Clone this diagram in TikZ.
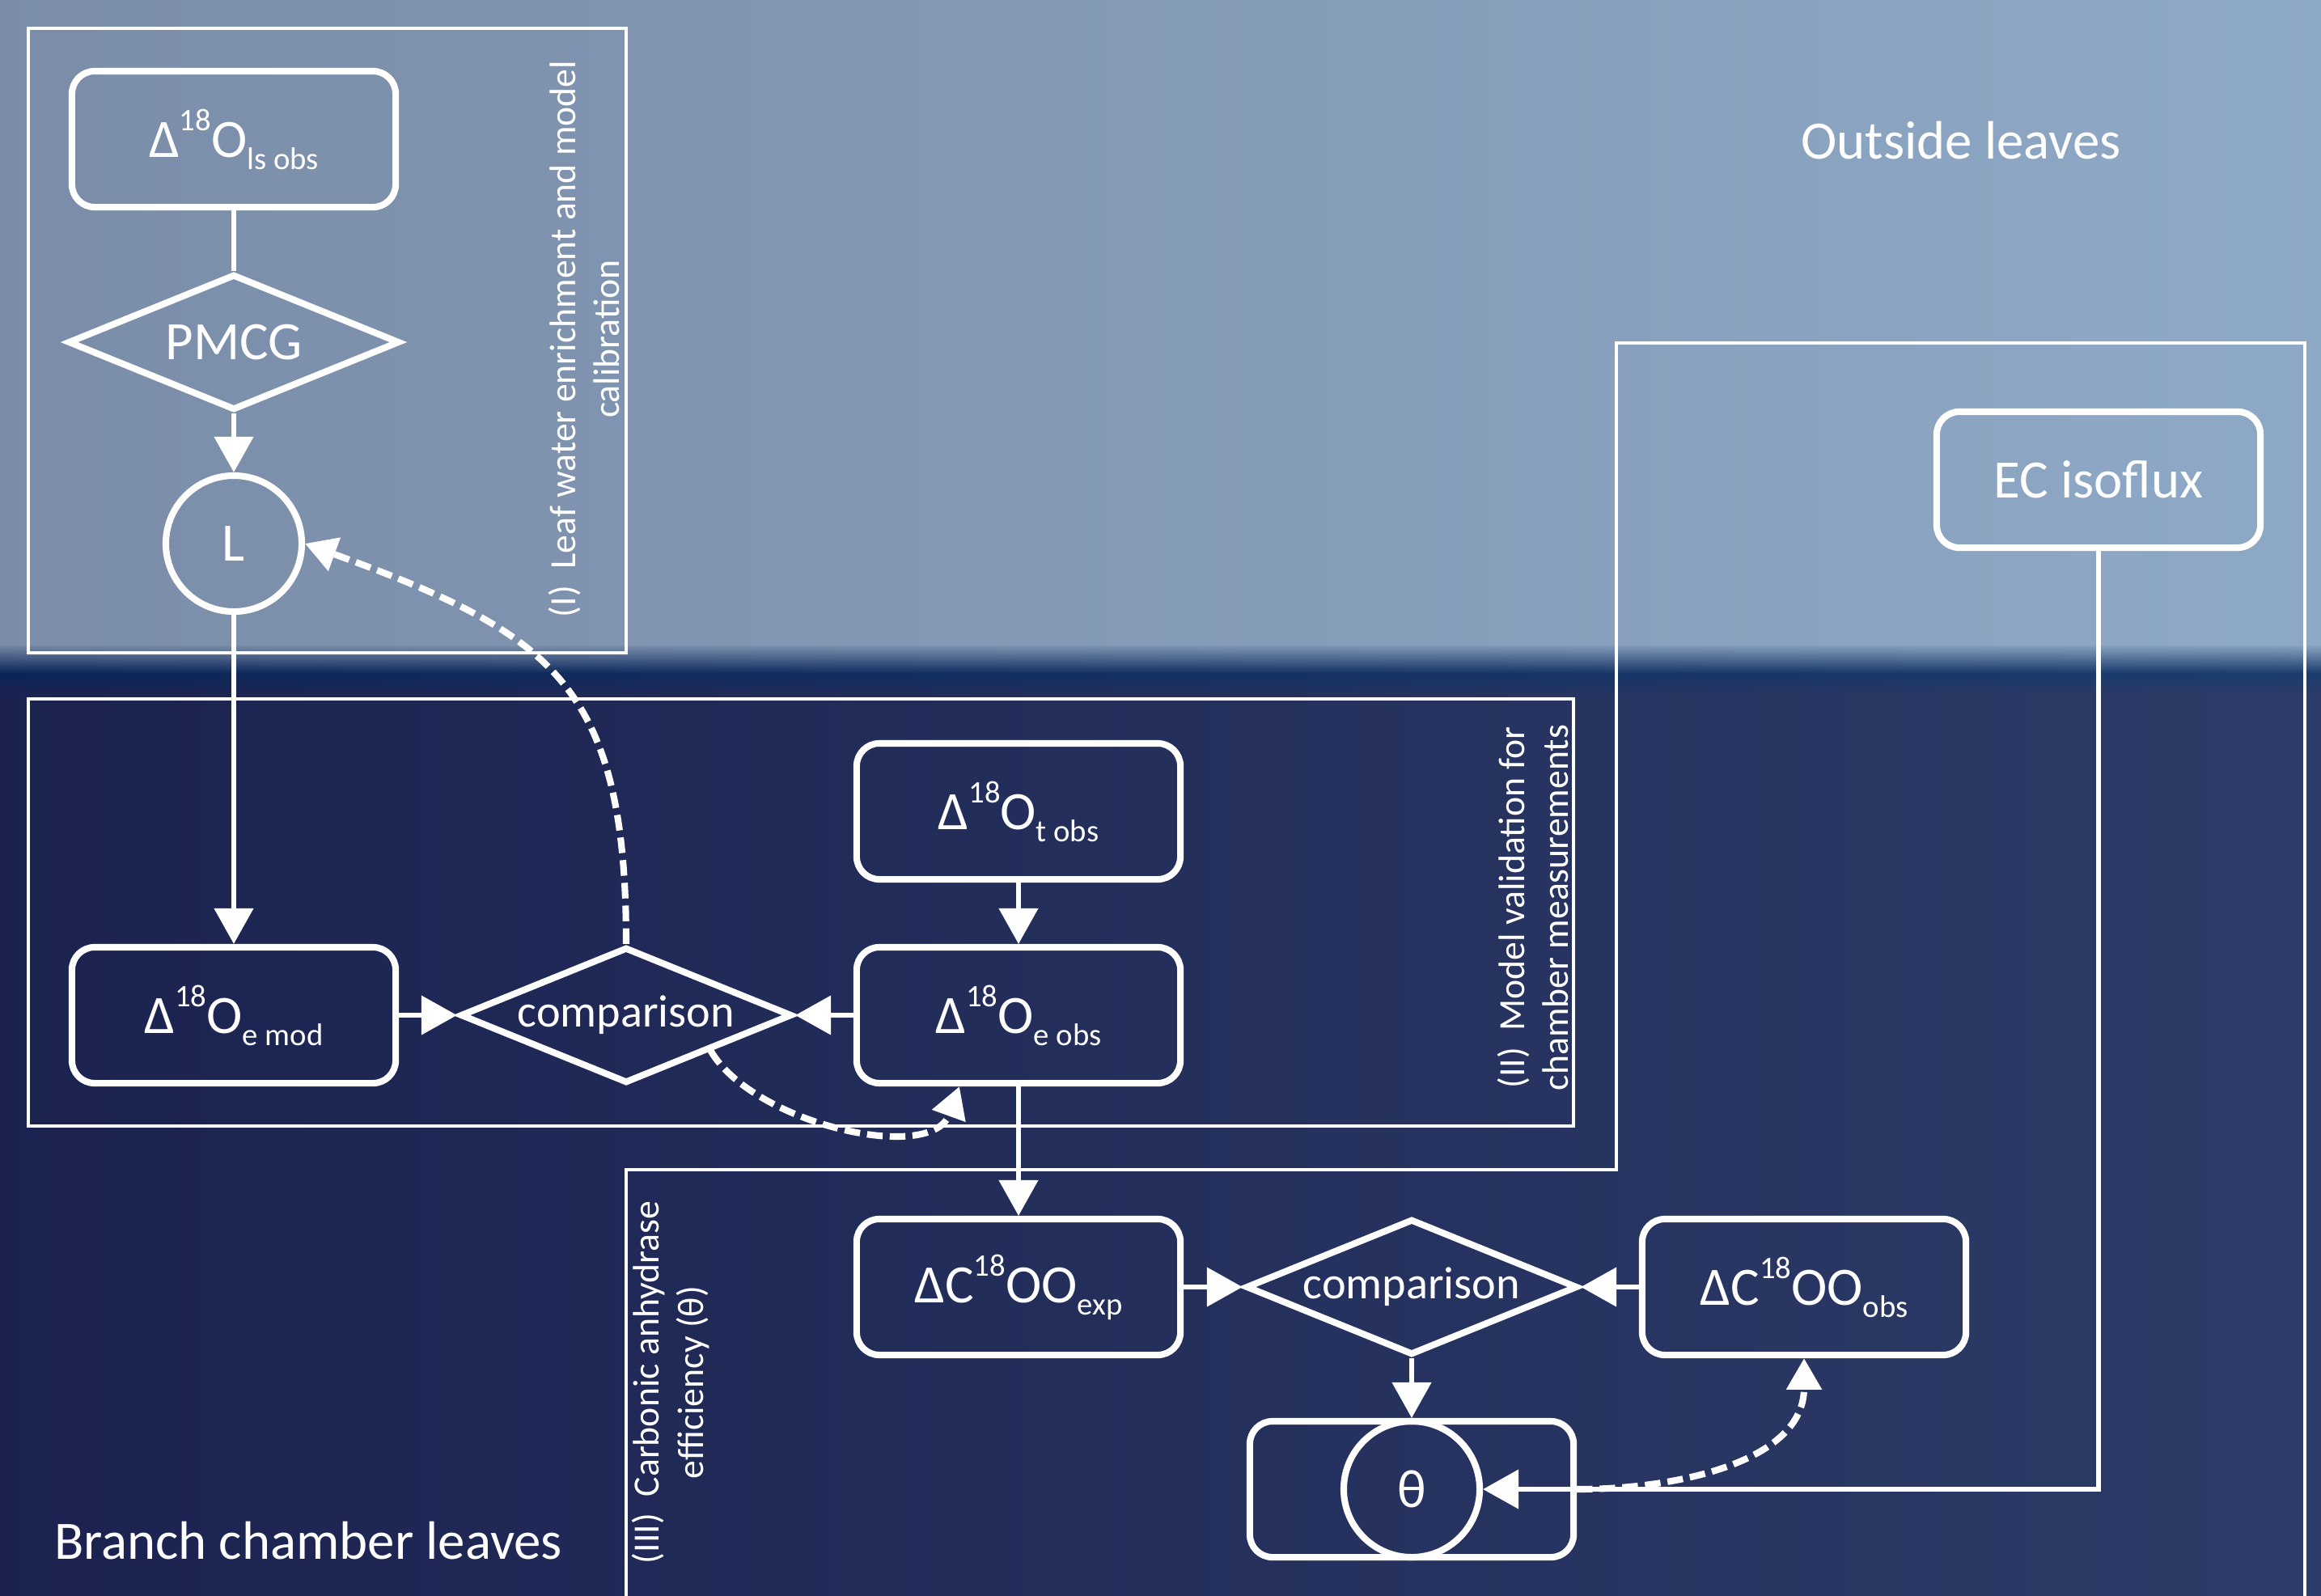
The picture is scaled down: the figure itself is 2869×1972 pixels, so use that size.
\documentclass[tikz,border=0pt]{standalone}
\usepackage{fontspec}
\setmainfont{Carlito}
\usetikzlibrary{arrows.meta,shapes.geometric,positioning,fadings}

\definecolor{skyleft}{HTML}{7A8CA8}
\definecolor{skyright}{HTML}{8EA9C6}
\definecolor{bandleft}{HTML}{0C2557}
\definecolor{bandright}{HTML}{1C3D6F}
\definecolor{navyleft}{HTML}{1B2250}
\definecolor{navyright}{HTML}{2D3C68}

\newcommand{\bigtxt}{\fontsize{19}{23}\selectfont}
\newcommand{\midtxt}{\fontsize{16}{19}\selectfont}
\newcommand{\smalltxt}{\fontsize{13}{15.5}\selectfont}
\newcommand{\iso}[1]{\raisebox{0.5em}{\fontsize{11}{11}\selectfont #1}}
\newcommand{\idx}[1]{\raisebox{-0.22em}{\fontsize{11}{11}\selectfont #1}}

\tikzset{
  quantity/.style={draw=white, line width=2.3pt, rounded corners=8pt,
    minimum width=4.0cm, minimum height=1.68cm, inner sep=0pt},
  decision/.style={diamond, draw=white, line width=2.3pt, aspect=2.44,
    minimum width=4.1cm, minimum height=1.68cm, inner sep=0pt},
  state/.style={circle, draw=white, line width=2.3pt, minimum size=1.68cm, inner sep=0pt},
  region/.style={draw=white, line width=1.4pt},
  flow/.style={white, line width=1.7pt, -{Triangle[length=12.5pt,width=13.5pt]}},
  feedback/.style={white, line width=2.3pt, dash pattern=on 5.5pt off 2.5pt,
    -{Triangle[length=11pt,width=12pt]}}
}

\begin{document}
\begin{tikzpicture}[x=0.01cm, y=-0.01cm]
  \useasboundingbox (0,0) rectangle (2869,1972);
  % background: outside leaves above, branch chamber below
  \shade[left color=bandleft, right color=bandright] (-30,795) rectangle (2899,858);
  \shade[left color=skyleft, right color=skyright] (-30,-30) rectangle (2899,797);
  \shade[left color=skyleft, right color=skyright, path fading=south] (-30,796) rectangle (2899,832);
  \shade[left color=navyleft, right color=navyright, path fading=north] (-30,834) rectangle (2899,858);
  \shade[left color=navyleft, right color=navyright] (-30,857) rectangle (2899,2000);

  % the three steps
  \begin{scope}[region]
    \draw (35,35) rectangle (774,807);
    \draw (35,864) rectangle (1945,1392);
    \draw (774,1990) -- (774,1446) -- (1998,1446) -- (1998,424) -- (2849,424) -- (2849,1990);
  \end{scope}

  \begin{scope}[every node/.style={text=white, font=\bigtxt}]
    \node (outside) at (2424,174) {Outside leaves};
    \node (branch) at (381,1905) {Branch chamber leaves};

    \node[quantity] (lsobs) at (289,172) {Δ\iso{18}O\idx{ls obs}};
    \node[decision] (pmcg) at (289,423) {PMCG};
    \node[state] (L) at (289,672) {L};
    \node[quantity] (emod) at (289,1255) {Δ\iso{18}O\idx{e mod}};
    \node[decision, font=\midtxt] (cmp1) at (774,1255) {comparison};
    \node[quantity] (eobs) at (1259,1255) {Δ\iso{18}O\idx{e obs}};
    \node[quantity] (tobs) at (1259,1003) {Δ\iso{18}O\idx{t obs}};
    \node[quantity] (cexp) at (1259,1591) {ΔC\iso{18}OO\idx{exp}};
    \node[decision, font=\midtxt] (cmp2) at (1745,1591) {comparison};
    \node[quantity] (cobs) at (2230,1591) {ΔC\iso{18}OO\idx{obs}};
    \node[quantity] (thetabox) at (1745,1841) {};
    \node[state] (theta) at (1745,1841) {θ};
    \node[quantity] (ecflux) at (2594,593) {EC isoflux};
  \end{scope}

  \begin{scope}[every node/.style={text=white, font=\smalltxt, align=center, rotate=90}]
    \node (stepI) at (722,419) {(I)\ \ Leaf water enrichment and model\\calibration};
    \node (stepII) at (1895,1122) {(II)\ \ Model validation for\\chamber measurements};
    \node (stepIII) at (829,1709) {(III)\ \ Carbonic anhydrase\\efficiency (θ)};
  \end{scope}

  \begin{scope}[every path/.style={flow}]
    \path (lsobs) edge[-] (pmcg);
    \path (pmcg) edge (L);
    \path (L) edge (emod);
    \path (emod) edge (cmp1);
    \path (eobs) edge (cmp1);
    \path (tobs) edge (eobs);
    \path (eobs) edge (cexp);
    \path (cexp) edge (cmp2);
    \path (cobs) edge (cmp2);
    \path (cmp2) edge (theta);
  \end{scope}
  \draw[flow] (ecflux) |- (theta);

  \begin{scope}[every path/.style={feedback}]
    \path (cmp1.north) edge[out=90, in=-20, looseness=1.3] (L.east);
    \path (cmp1.south east) edge[out=-60, in=-110, looseness=0.85] ([xshift=-7.3mm]eobs.south);
    \path (thetabox.east) edge[out=0, in=-90] (cobs.south);
  \end{scope}
\end{tikzpicture}
\end{document}
